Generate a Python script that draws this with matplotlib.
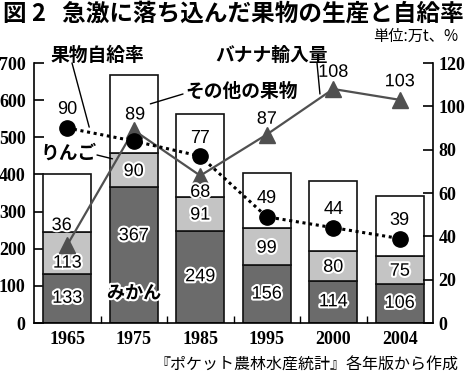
import matplotlib
matplotlib.use("Agg")
import matplotlib.pyplot as plt
import matplotlib.patheffects as pe
import numpy as np

# ---- data ----
years = ['1965', '1975', '1985', '1995', '2000', '2004']
mikan = [133, 367, 249, 156, 114, 106]          # 万t
ringo = [113, 90, 91, 99, 80, 75]               # 万t
others = [154, 210, 223, 150, 187, 162]         # 万t (unlabeled)
self_suff = [90, 84, 77, 49, 44, 39]            # %
self_suff_labels = ['90', '', '77', '49', '44', '39']
banana = [36, 89, 68, 87, 108, 103]             # 万t
left_ticks = [0, 100, 200, 300, 400, 500, 600, 700]
right_ticks = [0, 20, 40, 60, 80, 100, 120]

CJK = ['Noto Sans CJK JP', 'DejaVu Sans']
NUM = 'Liberation Sans'
SERIF = 'Liberation Serif'

W, H = 466, 379
fig = plt.figure(figsize=(W / 100, H / 100), dpi=100)
ax = fig.add_axes([34 / W, 1 - 323 / H, (433 - 34) / W, (323 - 63) / H])
ax2 = ax.twinx()

x = np.arange(len(years))
bw = 0.72
dark = '#6b6b6b'
light = '#c4c4c4'
ec = '#111111'

ax.bar(x, mikan, bw, color=dark, edgecolor=ec, linewidth=1.2, zorder=2)
bottom2 = np.array(mikan)
ax.bar(x, ringo, bw, bottom=bottom2, color=light, edgecolor=ec, linewidth=1.2, zorder=2)
bottom3 = bottom2 + np.array(ringo)
ax.bar(x, others, bw, bottom=bottom3, color='white', edgecolor=ec, linewidth=1.2, zorder=2)

ax.set_xlim(-0.5, 5.5)
ax.set_ylim(0, 700)
ax2.set_ylim(0, 120)

halo = [pe.withStroke(linewidth=3, foreground='white')]

# in-bar labels
for i in range(len(years)):
    ym = mikan[i] / 2
    if i == 1:
        ym = mikan[i] * 0.64
    ax.text(x[i], ym, str(mikan[i]), ha='center', va='center', fontsize=13,
            family=NUM, zorder=5, path_effects=halo)
    yr = mikan[i] + ringo[i] / 2 - 4
    if i == 0:
        yr = mikan[i] + ringo[i] * 0.25
    ax.text(x[i], yr, str(ringo[i]), ha='center', va='center', fontsize=13,
            family=NUM, zorder=5, path_effects=halo)

# lines on right axis
ax2.plot(x, banana, color='#505050', lw=1.6, marker='^', markersize=12,
         markerfacecolor='#505050', markeredgecolor='#505050', zorder=4)
ax2.plot(x, self_suff, color='black', lw=2.2, linestyle=(0, (1, 1.2)), marker='o',
         markersize=11, markerfacecolor='black', markeredgecolor='black', zorder=4)

# banana labels
ban_off = [(-4, 14), (1, 11), (0, -12), (0, 11), (0, 12), (0, 13)]
for i, v in enumerate(banana):
    dx, dy = ban_off[i]
    ax2.annotate(str(v), (x[i], v), xytext=(dx, dy), textcoords='offset points',
                 ha='center', va='center', fontsize=13, family=NUM, zorder=6,
                 path_effects=halo)
for i, v in enumerate(self_suff):
    if self_suff_labels[i]:
        ax2.annotate(self_suff_labels[i], (x[i], v), xytext=(0, 13), textcoords='offset points',
                     ha='center', va='center', fontsize=13, family=NUM, zorder=6)

# axes styling
for a in (ax, ax2):
    a.spines['top'].set_visible(False)
    a.patch.set_visible(False)
ax.spines['right'].set_visible(False)
ax2.spines['left'].set_visible(False)
ax2.spines['bottom'].set_visible(False)
for s in ('left', 'bottom'):
    ax.spines[s].set_linewidth(1.2)
ax2.spines['right'].set_linewidth(1.2)

ax.set_yticks(left_ticks)
ax.set_yticklabels([str(t) for t in left_ticks], family=SERIF, fontsize=13, weight='bold')
ax.tick_params(axis='y', direction='in', length=7, width=1.2, pad=6)
ax2.set_yticks(right_ticks)
ax2.set_yticklabels([str(t) for t in right_ticks], family=SERIF, fontsize=13, weight='bold')
ax2.tick_params(axis='y', direction='in', length=7, width=1.2, pad=4)

ax.set_xticks(x)
ax.set_xticklabels(years, family=SERIF, fontsize=13, weight='bold')
ax.set_xticks(x[:-1] + 0.5, minor=True)
ax.tick_params(axis='x', which='major', length=0, pad=6)
ax.tick_params(axis='x', which='minor', direction='in', length=5, width=1.0)

# texts
fig.text(3 / W, 1 - 2 / H, '図 2   急激に落ち込んだ果物の生産と自給率', family=CJK,
         fontsize=17, weight='bold', ha='left', va='top')
fig.text(458 / W, 1 - 36 / H, '単位:万t、%', family=CJK, fontsize=11, ha='right', va='center')
fig.text(458 / W, 1 - 365 / H, '『ポケット農林水産統計』各年版から作成', family=CJK,
         fontsize=11.5, ha='right', va='center')

def ftxt(px, py, s, size=13.5, **kw):
    fig.text(px / W, 1 - py / H, s, family=CJK, fontsize=size, ha='center', va='center', **kw)

ftxt(97, 55, '果物自給率', weight='bold')
ftxt(272, 55, 'バナナ輸入量', weight='bold')
ftxt(242, 91, 'その他の果物', weight='bold')
ftxt(69, 153, 'りんご', weight='bold')
fig.text(134 / W, 1 - 293 / H, 'みかん', family=CJK, fontsize=13, weight='bold',
         ha='center', va='center', zorder=10, path_effects=halo)

def leader(p0, xy, axis):
    axis.annotate('', xy=xy, xycoords='data', xytext=(p0[0] / W, 1 - p0[1] / H),
                  textcoords='figure fraction',
                  arrowprops=dict(arrowstyle='-', color='black', lw=1.0, shrinkA=0, shrinkB=0),
                  zorder=7)

leader((72, 63), (0.33, 90.4), ax2)
leader((317, 63), (3.8, 105.7), ax2)
leader((183, 94), (1.25, 590), ax)
leader((97, 155), (0.68, 442), ax)

fig.savefig('out.png', dpi=100)
